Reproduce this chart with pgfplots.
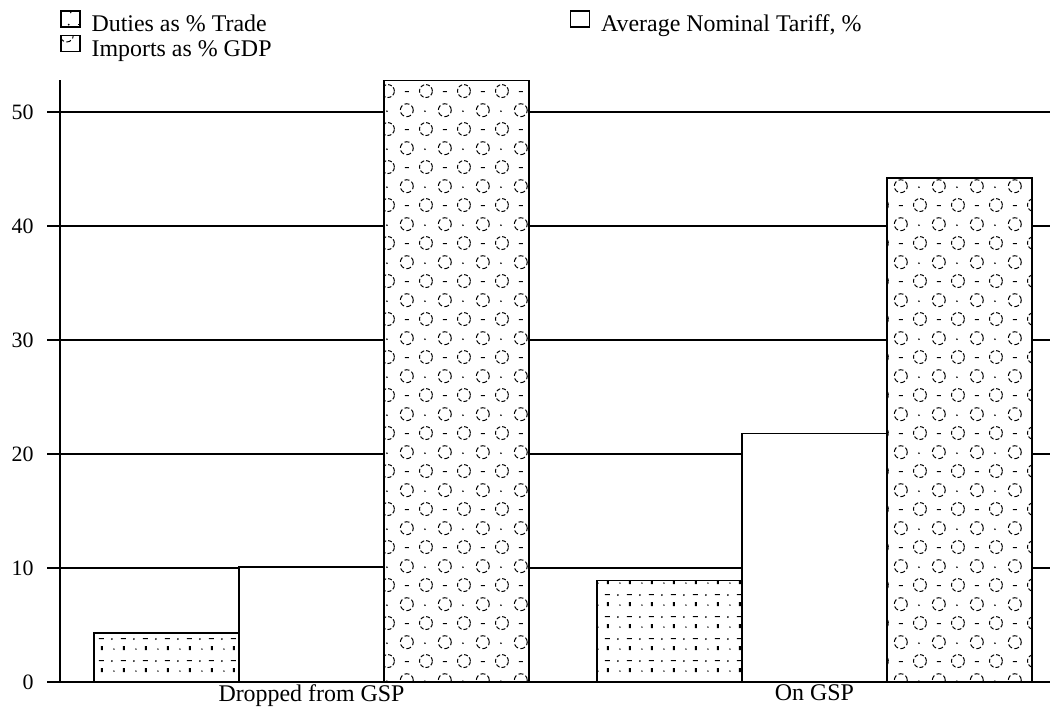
\documentclass[border=0pt]{standalone}
\usepackage{fontspec}
\setmainfont{Liberation Serif}
\usepackage{pgfplots}
\pgfplotsset{compat=1.18}
\usetikzlibrary{patterns.meta}

\tikzdeclarepattern{
  name=clouds,
  type=uncolored,
  bounding box={(0pt,0pt) and (38pt,38pt)},
  tile size={(38pt,38pt)},
  code={
    \draw[line width=1pt, dash pattern=on 4pt off 2pt] (10pt,10pt) circle (6.5pt);
    \draw[line width=1pt, dash pattern=on 5pt off 2.5pt] (29pt,29pt) circle (6.5pt);
    \fill (27pt,9pt) rectangle (31pt,10pt);
    \fill (9pt,28pt) circle (0.9pt);
  }
}
\tikzdeclarepattern{
  name=specks,
  type=uncolored,
  bounding box={(0pt,0pt) and (22pt,22pt)},
  tile size={(22pt,22pt)},
  code={
    \fill (3pt,4pt) circle (1pt);
    \fill (14pt,15pt) rectangle (16pt,19pt);
    \fill (12pt,4pt) rectangle (17pt,5pt);
    \fill (5pt,16pt) circle (0.8pt);
  }
}

\begin{document}
\begin{tikzpicture}
\path[use as bounding box] (-60bp,-26bp) rectangle (996bp,682bp);
\begin{axis}[
  x=503bp, y=11.4bp,
  xmin=-0.5, xmax=1.468, ymin=0, ymax=52.8,
  axis lines=left,
  axis line style={-, line width=1.8bp},
  ybar=0pt, bar width=145bp,
  xtick={0,1}, xticklabels={Dropped from GSP, On GSP},
  xtick style={draw=none},
  xticklabel style={anchor=north, inner sep=0pt, yshift=11bp, font=\fontsize{24}{26}\selectfont},
  ytick={0,10,20,30,40,50},
  ymajorgrids,
  grid style={black, line width=1.5bp},
  major tick length=13bp, tick align=outside,
  ytick style={black, line width=1.5bp},
  yticklabel style={font=\fontsize{22}{26}\selectfont, xshift=-10bp},
  /pgf/number format/assume math mode=true,
  legend columns=2,
  legend cell align=left,
  legend style={at={(0,1.1165)}, anchor=north west, draw=none, fill=none,
    inner sep=0pt, outer sep=0pt, font=\fontsize{24}{26}\selectfont,
    row sep=0bp,
    nodes={inner sep=0pt, text height=17bp, text depth=3bp},
    /tikz/every even column/.append style={column sep=298bp},
    /tikz/every odd column/.append style={column sep=11bp}},
  legend image code/.code={\draw[#1] (0bp,-2bp) rectangle (19bp,14bp);},
]
\addplot[draw=black, line width=1.6bp, fill=white, postaction={pattern=specks, pattern color=black}] coordinates {(0,4.3) (1,8.9)};
\addlegendentry{Duties as \% Trade}
\addplot[draw=black, line width=1.6bp, fill=white] coordinates {(0,10.1) (1,21.8)};
\addlegendentry{Average Nominal Tariff, \%}
\addplot[draw=black, line width=1.6bp, fill=white, postaction={pattern=clouds, pattern color=black}] coordinates {(0,52.8) (1,44.2)};
\addlegendentry{Imports as \% GDP}
\end{axis}
\end{tikzpicture}
\end{document}
